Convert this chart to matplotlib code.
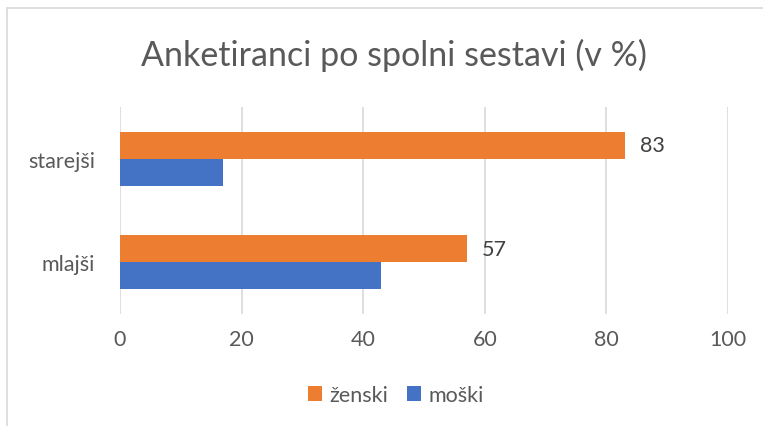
import matplotlib
matplotlib.use("Agg")
import matplotlib.pyplot as plt
from matplotlib.patches import Rectangle

categories = ["mlajši", "starejši"]
zenski = [57, 83]
moski = [43, 17]
xticks = [0, 20, 40, 60, 80, 100]
title = "Anketiranci po spolni sestavi (v %)"

plt.rcParams['font.family'] = ['Lato', 'DejaVu Sans']
txt = '#595959'

fig = plt.figure(figsize=(7.63, 4.27), dpi=100)
fig.patches.append(Rectangle((7/763, -0.1), 1.2, (1 - 9/427) + 0.1, transform=fig.transFigure,
                             fill=False, edgecolor='#D9D9D9', linewidth=1.2))
ax = fig.add_axes([120/763, 1 - 315/427, 608/763, 207/427])

h = 0.26
y = list(range(len(categories)))
ax.barh([v + h/2 for v in y], zenski, height=h, color='#ED7D31', label='ženski', zorder=3)
ax.barh([v - h/2 for v in y], moski, height=h, color='#4472C4', label='moški', zorder=3)

for yi, v in zip(y, zenski):
    ax.annotate(str(v), (v, yi + h/2), xytext=(11, 0), textcoords='offset points',
                va='center', ha='left', fontsize=15.5, color='#404040')

ax.set_xlim(0, 100)
ax.set_ylim(-0.5, 1.5)
ax.set_xticks(xticks)
ax.set_yticks(y)
ax.set_yticklabels(categories)
ax.tick_params(axis='both', length=0, labelsize=15.5, labelcolor=txt)
ax.tick_params(axis='x', pad=11)
ax.tick_params(axis='y', pad=18)
ax.grid(axis='x', color='#D9D9D9', linewidth=1.2, zorder=0)
for s in ax.spines.values():
    s.set_visible(False)

fig.text(394/763, 1 - 55/427, title, ha='center', va='center', fontsize=24.5, color=txt)

handles, labels = ax.get_legend_handles_labels()
fig.legend(handles, labels, loc='center', bbox_to_anchor=(396/763, 1 - 396/427), ncol=2,
           frameon=False, fontsize=15.5, labelcolor=txt, handlelength=0.65, handleheight=0.65,
           handletextpad=0.35, columnspacing=0.9)

fig.savefig('out.png', dpi=100)
